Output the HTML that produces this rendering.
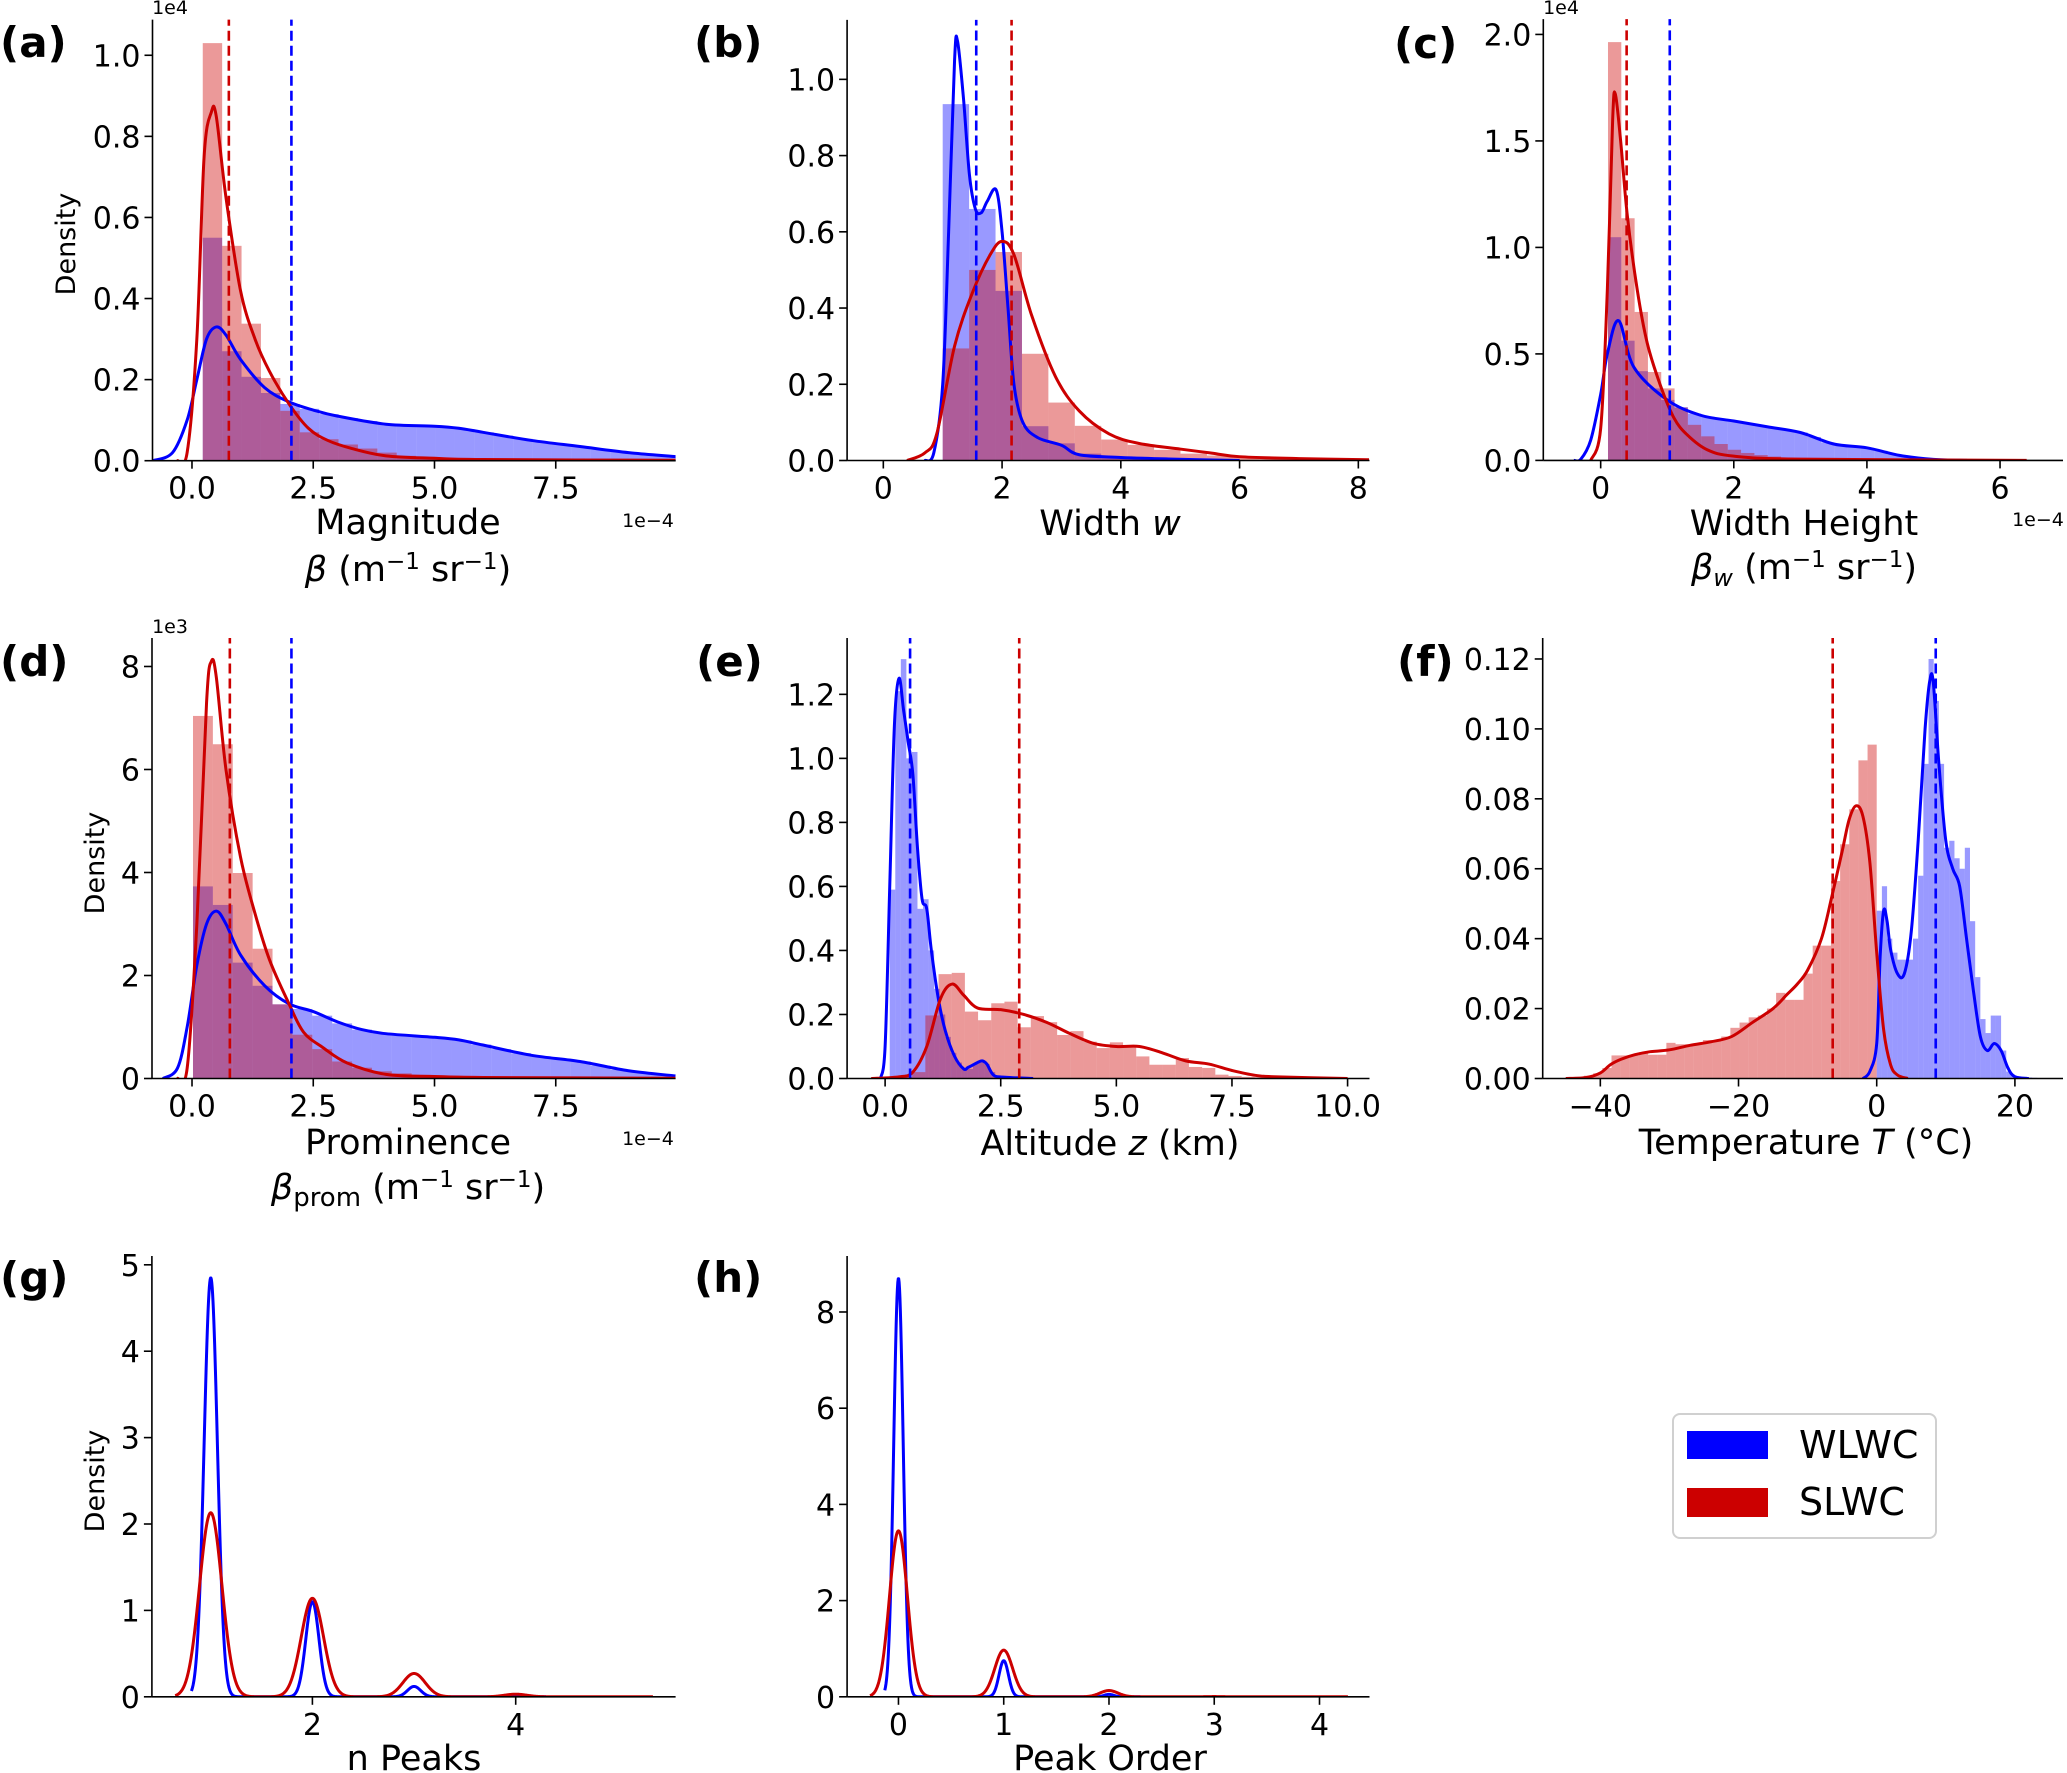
<!DOCTYPE html>
<html><head><meta charset="utf-8"><title>WLWC vs SLWC distributions</title>
<style>html,body{margin:0;padding:0;background:#fff}svg{display:block;font-family:"DejaVu Sans","Liberation Sans",sans-serif}</style>
</head><body>
<svg id="fig" width="2067" height="1773" viewBox="0 0 2067 1773" xmlns="http://www.w3.org/2000/svg">
<rect x="0" y="0" width="2067" height="1773" fill="#fff"/>
<g id="legend">
<rect x="1673" y="1414" width="263" height="124" rx="7" fill="#fff" stroke="#d0d0d0" stroke-width="2"/>
<rect x="1687" y="1431" width="81" height="28" fill="#0000ff"/>
<text x="1799" y="1458" font-size="38">WLWC</text>
<rect x="1687" y="1488" width="81" height="29" fill="#cc0000"/>
<text x="1799" y="1515" font-size="38">SLWC</text>
</g>
</svg>
<script>
// ---------- data ----------
// (a) Magnitude
const aRedHist=[1.03,0.53,0.338,0.204,0.123,0.07,0.053,0.04,0.03,0.02,0.012,0.009,0.006,0.004,0.003,0.002,0.002,0.001,0.001,0.001];
const aBlueHist=[0.55,0.27,0.207,0.167,0.14,0.128,0.115,0.105,0.098,0.09,0.088,0.086,0.083,0.078,0.07,0.062,0.054,0.046,0.04,0.035,0.028,0.022,0.017,0.013,0.01];
const aBlueKdeX=[-0.8,-0.4,-0.1,0.1,0.3,0.5,0.7,1.0,1.5,2.0,2.5,3,4,5,5.5,6,7,8,9,9.97];
const aBlueKdeY=[0,0.02,0.1,0.2,0.3,0.33,0.31,0.25,0.18,0.145,0.125,0.11,0.09,0.085,0.08,0.07,0.05,0.035,0.02,0.01];
const aRedKdeX=[-0.3,-0.1,0.1,0.25,0.4,0.5,0.7,1.0,1.3,1.6,2.0,2.4,2.8,3.3,4,5,6,9.97];
const aRedKdeY=[0,0.02,0.3,0.75,0.86,0.85,0.65,0.42,0.3,0.22,0.14,0.08,0.05,0.03,0.012,0.006,0.003,0.001];
const aMeans=[0.76,2.05];
// (b) Width
const bRedHist=[0.294,0.5,0.547,0.28,0.152,0.091,0.055,0.041,0.028,0.018,0.013,0.008,0.006,0.004,0.003,0.002];
const bBlueHist=[0.935,0.66,0.445,0.09,0.045,0.018,0.01,0.006,0.004,0.003,0.002,0.001];
const bBlueKdeX=[0.7,0.85,1.0,1.1,1.2,1.25,1.35,1.45,1.55,1.65,1.75,1.9,2.0,2.1,2.2,2.35,2.6,3.0,3.3,4,4.8,6];
const bBlueKdeY=[0,0.02,0.2,0.6,1.05,1.1,0.95,0.75,0.66,0.65,0.68,0.71,0.6,0.4,0.2,0.1,0.06,0.04,0.015,0.008,0.004,0];
const bRedKdeX=[0.4,0.7,0.9,1.2,1.5,1.8,2.0,2.2,2.5,2.9,3.3,3.8,4.3,5,5.5,6,7,8.18];
const bRedKdeY=[0,0.02,0.07,0.3,0.44,0.54,0.575,0.54,0.38,0.22,0.13,0.07,0.045,0.03,0.02,0.01,0.005,0.002];
const bMeans=[2.16,1.565];
// (c) Width Height
const cRedHist=[1.964,1.137,0.697,0.415,0.338,0.248,0.167,0.113,0.077,0.05,0.035,0.025,0.018,0.012,0.008,0.006,0.004,0.003,0.002,0.002,0.001];
const cBlueHist=[1.048,0.562,0.419,0.338,0.284,0.25,0.22,0.205,0.195,0.185,0.175,0.163,0.152,0.142,0.131,0.11,0.085,0.073,0.066,0.059,0.045,0.028,0.018,0.01,0.005,0.002];
const cBlueKdeX=[-0.4,-0.3,-0.15,0,0.1,0.27,0.5,1.0,1.5,2,2.5,3,3.5,4,4.5,5,5.5];
const cBlueKdeY=[0,0.005,0.095,0.31,0.5,0.656,0.437,0.284,0.212,0.185,0.158,0.131,0.077,0.059,0.023,0.005,0];
const cRedKdeX=[-0.15,0,0.1,0.18,0.22,0.3,0.4,0.55,0.7,0.9,1.1,1.3,1.6,2,3,6.4];
const cRedKdeY=[0,0.15,0.8,1.6,1.72,1.5,1.15,0.8,0.55,0.35,0.2,0.12,0.05,0.02,0.006,0];
const cMeans=[0.39,1.038];
// (d) Prominence
const dRedHist=[7.04,6.49,3.99,2.52,1.44,0.85,0.57,0.33,0.21,0.14,0.1,0.07,0.05,0.04,0.03,0.02,0.02,0.01,0.01,0.01,0.01,0.005,0.005,0.005];
const dBlueHist=[3.73,3.37,2.25,1.80,1.44,1.35,1.22,1.07,0.95,0.88,0.85,0.82,0.79,0.74,0.66,0.57,0.49,0.43,0.38,0.33,0.25,0.17,0.12,0.08];
const dBlueKdeX=[-0.6,-0.3,-0.1,0.1,0.3,0.5,0.7,1.0,1.5,2.0,2.5,3,3.5,4,5,5.5,6,7,8,9,9.97];
const dBlueKdeY=[0,0.2,1.0,2.2,3.0,3.25,3.0,2.4,1.8,1.45,1.3,1.1,0.95,0.87,0.8,0.75,0.65,0.45,0.33,0.15,0.05];
const dRedKdeX=[-0.3,-0.1,0.1,0.3,0.4,0.5,0.7,1.0,1.3,1.6,2.0,2.3,2.7,3.2,4,5,6,9.97];
const dRedKdeY=[0,0.2,3.0,7.3,8.1,7.8,6.0,4.3,3.2,2.3,1.45,0.9,0.6,0.3,0.08,0.04,0.02,0.005];
const dMeans=[0.78,2.05];
// (e) Altitude
const eRedHist=[0.005,0.02,0.197,0.326,0.33,0.209,0.182,0.235,0.24,0.16,0.195,0.176,0.136,0.148,0.115,0.095,0.113,0.097,0.069,0.043,0.043,0.064,0.036,0.033,0.012,0.008,0.005,0.004,0.003,0.003,0.002,0.002,0.001,0.001];
const eBlueHist=[0.59,1.21,1.31,1.0,1.02,0.53,0.56,0.4,0.28,0.2,0.13,0.08,0.05,0.03,0.03,0.045,0.05,0.045,0.02,0.01,0.006,0.005,0.004,0.003,0.002,0.002];
const eBlueKdeX=[-0.1,0.0,0.1,0.2,0.3,0.4,0.5,0.6,0.7,0.8,0.9,1.0,1.15,1.3,1.5,1.7,1.8,2.0,2.1,2.2,2.35,2.6,3.2];
const eBlueKdeY=[0,0.1,0.6,1.1,1.25,1.15,1.05,0.95,0.72,0.56,0.53,0.4,0.25,0.15,0.07,0.03,0.035,0.05,0.055,0.045,0.01,0.004,0];
const eRedKdeX=[-0.3,0.3,0.6,0.9,1.2,1.45,1.7,2.0,2.5,3.0,3.5,4.0,4.5,5.0,5.5,6.0,6.5,7,7.5,8,8.5,10];
const eRedKdeY=[0,0.005,0.02,0.1,0.25,0.295,0.26,0.22,0.215,0.2,0.175,0.14,0.11,0.1,0.1,0.08,0.055,0.045,0.025,0.01,0.005,0];
const eMeans=[2.9,0.54];
// (f) Temperature
const fRedHist=[0.0002,0.0004,0.0008,0.0015,0.003,0.0066,0.0066,0.0066,0.0075,0.0068,0.0068,0.0102,0.0098,0.0098,0.0098,0.011,0.011,0.012,0.0145,0.016,0.0175,0.018,0.020,0.0245,0.0225,0.0225,0.03,0.038,0.038,0.0565,0.067,0.077,0.091,0.0955];
const fBlueHist=[0.048,0.055,0.04,0.036,0.034,0.034,0.034,0.04,0.058,0.09,0.12,0.108,0.09,0.066,0.068,0.063,0.06,0.066,0.045,0.029,0.017,0.013,0.018,0.018,0.008,0.002,0.0008,0.0005,0.0005,0.0003,0.0002];
const fBlueKdeX=[-2,-1,0,0.5,1,1.5,2,3,4,5,6,7,7.7,8.2,9,10,11,12,13,14,15,16,17,18,19,20,22];
const fBlueKdeY=[0,0.002,0.01,0.035,0.048,0.045,0.037,0.03,0.03,0.042,0.068,0.1,0.114,0.113,0.09,0.068,0.06,0.055,0.04,0.025,0.012,0.008,0.01,0.008,0.003,0.0005,0];
const fRedKdeX=[-45,-42,-40,-38.5,-37,-35,-33,-30,-27,-24,-21,-18,-15,-13,-11.5,-10,-8,-6.5,-5,-4,-3,-2,-1,0,1,2,3,4.5];
const fRedKdeY=[0,0.0003,0.0016,0.004,0.0055,0.0068,0.0076,0.0082,0.0095,0.0105,0.012,0.016,0.02,0.024,0.027,0.031,0.04,0.052,0.065,0.074,0.078,0.075,0.062,0.036,0.014,0.004,0.001,0];
const fMeans=[-6.37,8.54];
// (g) n Peaks (KDE peak positions / heights)
const gPeakPos=[1,2,3,4];
const gBluePeaks=[4.85,1.1,0.12,0.0];
const gRedPeaks=[2.13,1.14,0.27,0.03];
// (h) Peak Order
const hPeakPos=[0,1,2,3];
const hBluePeaks=[8.7,0.75,0.05,0.0];
const hRedPeaks=[3.45,0.97,0.13,0.005];

// ---------- helpers ----------
const NS='http://www.w3.org/2000/svg';
const svg=document.getElementById('fig');
const legend=document.getElementById('legend');
const BLUE='#0000ff', RED='#cc0000';
function mk(tag,attrs,parent){const e=document.createElementNS(NS,tag);for(const k in attrs)e.setAttribute(k,attrs[k]);(parent||svg).appendChild(e);return e;}
function smooth(pts){let d='M'+pts[0][0].toFixed(2)+','+pts[0][1].toFixed(2);
 for(let i=0;i<pts.length-1;i++){const p0=pts[i-1]||pts[i],p1=pts[i],p2=pts[i+1],p3=pts[i+2]||p2;
  const c1=[p1[0]+(p2[0]-p0[0])/6,p1[1]+(p2[1]-p0[1])/6],c2=[p2[0]-(p3[0]-p1[0])/6,p2[1]-(p3[1]-p1[1])/6];
  d+=' C'+c1[0].toFixed(2)+','+c1[1].toFixed(2)+' '+c2[0].toFixed(2)+','+c2[1].toFixed(2)+' '+p2[0].toFixed(2)+','+p2[1].toFixed(2);}
 return d;}
let clipN=0;
function panel(c){
 const g=mk('g',{});
 
 
 const X=v=>c.l+(v-c.xd[0])/(c.xd[1]-c.xd[0])*(c.r-c.l);
 const Y=v=>c.b-(v-c.yd[0])/(c.yd[1]-c.yd[0])*(c.b-c.t);
 const cid='clip'+(clipN++);
 const defs=mk('defs',{},g);const cp=mk('clipPath',{id:cid},defs);mk('rect',{x:c.l,y:c.t-5,width:c.r-c.l,height:c.b-c.t+5},cp);
 const plot=mk('g',{'clip-path':'url(#'+cid+')'},g);
 (c.hists||[]).forEach(h=>{
  const hg=mk('g',{fill:h.color,'fill-opacity':0.4},plot);
  
  
  h.vals.forEach((v,i)=>{const x0=X(h.start+i*h.width),x1=X(h.start+(i+1)*h.width);
   const r=mk('rect',{x:x0,y:Y(v),width:Math.max(0,x1-x0),height:Math.max(0,Y(0)-Y(v))},hg);
   
   });
 });
 (c.kdes||[]).forEach(k=>{
  const pts=k.xs.map((x,i)=>[X(x),Y(k.ys[i])]);
  const p=mk('path',{d:smooth(pts),fill:'none',stroke:k.color,'stroke-width':3,'stroke-linejoin':'round'},plot);
  
  
 });
 (c.gauss||[]).forEach(k=>{
  const pts=[];for(let x=k.lo;x<=k.hi+1e-9;x+=0.004){let y=0;k.pos.forEach((p,i)=>{y+=k.h[i]*Math.exp(-((x-p)*(x-p))/(2*k.s*k.s));});pts.push([X(x),Y(y)]);}
  const d='M'+pts.map(p=>p[0].toFixed(2)+','+p[1].toFixed(2)).join(' L');
  const p=mk('path',{d:d,fill:'none',stroke:k.color,'stroke-width':3,'stroke-linejoin':'round'},plot);
  
  
 });
 (c.vlines||[]).forEach(v=>{
  const l=mk('line',{x1:X(v.v),x2:X(v.v),y1:c.b,y2:c.t,stroke:v.color,'stroke-width':2.6,'stroke-dasharray':'10,5'},g);
  
  
 });
 const ya=mk('line',{x1:c.l,x2:c.l,y1:c.t,y2:c.b,stroke:'#000','stroke-width':1.6},g);
 
 
 const xa=mk('line',{x1:c.l,x2:c.r,y1:c.b,y2:c.b,stroke:'#000','stroke-width':1.6},g);
 
 
 c.xticks.forEach((t,i)=>{const x=X(t);mk('line',{x1:x,x2:x,y1:c.b,y2:c.b+8,stroke:'#000','stroke-width':1.6},g);
  const tx=mk('text',{x:x,y:c.b+38,'font-size':30,'text-anchor':'middle'},g);tx.textContent=c.xlabels[i];
  
  });
 c.yticks.forEach((t,i)=>{const y=Y(t);mk('line',{x1:c.l-8,x2:c.l,y1:y,y2:y,stroke:'#000','stroke-width':1.6},g);
  const tx=mk('text',{x:c.l-12,y:y+11,'font-size':30,'text-anchor':'end'},g);tx.textContent=c.ylabels[i];
  
  });
 const pl=mk('text',{x:c.px,y:c.py,'font-size':42,'font-weight':'bold'},g);pl.textContent='('+c.id+')';
 
 
 return g;
}
function txt(x,y,size,html,name,anchor,rot){
 const t=mk('text',{x:x,y:y,'font-size':size,'text-anchor':anchor||'middle'});
 if(rot)t.setAttribute('transform','rotate(-90 '+x+' '+y+')');
 t.innerHTML=html;
 
 
 return t;}
const fmt1=a=>a.map(v=>v.toFixed(1));
const sup='<tspan dy="-12" font-size="23">−1</tspan>';

// ---------- panels ----------
panel({id:'a',l:152.5,r:675.7,t:19.6,b:460.7,xd:[-0.814,9.973],yd:[0,1.088],
 xticks:[0,2.5,5,7.5],xlabels:['0.0','2.5','5.0','7.5'],yticks:[0,0.2,0.4,0.6,0.8,1.0],ylabels:fmt1([0,0.2,0.4,0.6,0.8,1.0]),
 hists:[{start:0.222,width:0.4,vals:aBlueHist,color:BLUE,label:'wlwc'},{start:0.222,width:0.4,vals:aRedHist,color:RED,label:'slwc'}],
 kdes:[{xs:aBlueKdeX,ys:aBlueKdeY,color:BLUE,label:'wlwc'},{xs:aRedKdeX,ys:aRedKdeY,color:RED,label:'slwc'}],
 vlines:[{v:aMeans[0],color:RED,label:'slwc'},{v:aMeans[1],color:BLUE,label:'wlwc'}],px:0,py:57});
panel({id:'b',l:847.1,r:1369.5,t:19.9,b:460.5,xd:[-0.61,8.188],yd:[0,1.156],
 xticks:[0,2,4,6,8],xlabels:['0','2','4','6','8'],yticks:[0,0.2,0.4,0.6,0.8,1.0],ylabels:fmt1([0,0.2,0.4,0.6,0.8,1.0]),
 hists:[{start:1.0,width:0.445,vals:bBlueHist,color:BLUE,label:'wlwc'},{start:1.0,width:0.445,vals:bRedHist,color:RED,label:'slwc'}],
 kdes:[{xs:bBlueKdeX,ys:bBlueKdeY,color:BLUE,label:'wlwc'},{xs:bRedKdeX,ys:bRedKdeY,color:RED,label:'slwc'}],
 vlines:[{v:bMeans[0],color:RED,label:'slwc'},{v:bMeans[1],color:BLUE,label:'wlwc'}],px:694,py:57});
panel({id:'c',l:1543.3,r:2063,t:19.1,b:460.4,xd:[-0.862,6.946],yd:[0,2.072],
 xticks:[0,2,4,6],xlabels:['0','2','4','6'],yticks:[0,0.5,1.0,1.5,2.0],ylabels:fmt1([0,0.5,1.0,1.5,2.0]),
 hists:[{start:0.11,width:0.2,vals:cBlueHist,color:BLUE,label:'wlwc'},{start:0.11,width:0.2,vals:cRedHist,color:RED,label:'slwc'}],
 kdes:[{xs:cBlueKdeX,ys:cBlueKdeY,color:BLUE,label:'wlwc'},{xs:cRedKdeX,ys:cRedKdeY,color:RED,label:'slwc'}],
 vlines:[{v:cMeans[0],color:RED,label:'slwc'},{v:cMeans[1],color:BLUE,label:'wlwc'}],px:1394,py:58});
panel({id:'d',l:152,r:675.6,t:638,b:1078.5,xd:[-0.825,9.971],yd:[0,8.553],
 xticks:[0,2.5,5,7.5],xlabels:['0.0','2.5','5.0','7.5'],yticks:[0,2,4,6,8],ylabels:['0','2','4','6','8'],
 hists:[{start:0.02,width:0.41,vals:dBlueHist,color:BLUE,label:'wlwc'},{start:0.02,width:0.41,vals:dRedHist,color:RED,label:'slwc'}],
 kdes:[{xs:dBlueKdeX,ys:dBlueKdeY,color:BLUE,label:'wlwc'},{xs:dRedKdeX,ys:dRedKdeY,color:RED,label:'slwc'}],
 vlines:[{v:dMeans[0],color:RED,label:'slwc'},{v:dMeans[1],color:BLUE,label:'wlwc'}],px:0,py:676});
panel({id:'e',l:847.1,r:1369.5,t:638,b:1078.5,xd:[-0.822,10.474],yd:[0,1.376],
 xticks:[0,2.5,5,7.5,10],xlabels:['0.0','2.5','5.0','7.5','10.0'],yticks:[0,0.2,0.4,0.6,0.8,1.0,1.2],ylabels:fmt1([0,0.2,0.4,0.6,0.8,1.0,1.2]),
 hists:[{start:0.1,width:0.12,vals:eBlueHist,color:BLUE,label:'wlwc'},{start:0.3,width:0.285,vals:eRedHist,color:RED,label:'slwc'}],
 kdes:[{xs:eBlueKdeX,ys:eBlueKdeY,color:BLUE,label:'wlwc'},{xs:eRedKdeX,ys:eRedKdeY,color:RED,label:'slwc'}],
 vlines:[{v:eMeans[0],color:RED,label:'slwc'},{v:eMeans[1],color:BLUE,label:'wlwc'}],px:696,py:676});
panel({id:'f',l:1542.7,r:2063,t:638,b:1078.5,xd:[-48.34,26.96],yd:[0,0.126],
 xticks:[-40,-20,0,20],xlabels:['−40','−20','0','20'],yticks:[0,0.02,0.04,0.06,0.08,0.10,0.12],ylabels:['0.00','0.02','0.04','0.06','0.08','0.10','0.12'],
 hists:[{start:0,width:0.75,vals:fBlueHist,color:BLUE,label:'wlwc'},{start:-45,width:1.3235,vals:fRedHist,color:RED,label:'slwc'}],
 kdes:[{xs:fBlueKdeX,ys:fBlueKdeY,color:BLUE,label:'wlwc'},{xs:fRedKdeX,ys:fRedKdeY,color:RED,label:'slwc'}],
 vlines:[{v:fMeans[0],color:RED,label:'slwc'},{v:fMeans[1],color:BLUE,label:'wlwc'}],px:1397,py:676});
panel({id:'g',l:151.9,r:675.6,t:1256,b:1696.8,xd:[0.421,5.573],yd:[0,5.102],
 xticks:[2,4],xlabels:['2','4'],yticks:[0,1,2,3,4,5],ylabels:['0','1','2','3','4','5'],
 gauss:[{pos:gPeakPos,h:gBluePeaks,s:0.065,lo:0.81,hi:4.3,color:BLUE,label:'wlwc'},{pos:gPeakPos,h:gRedPeaks,s:0.11,lo:0.65,hi:5.35,color:RED,label:'slwc'}],
 px:0,py:1292});
panel({id:'h',l:847.1,r:1369.5,t:1256,b:1696.8,xd:[-0.488,4.475],yd:[0,9.164],
 xticks:[0,1,2,3,4],xlabels:['0','1','2','3','4'],yticks:[0,2,4,6,8],ylabels:['0','2','4','6','8'],
 gauss:[{pos:hPeakPos,h:hBluePeaks,s:0.045,lo:-0.13,hi:2.3,color:BLUE,label:'wlwc'},{pos:hPeakPos,h:hRedPeaks,s:0.085,lo:-0.27,hi:4.27,color:RED,label:'slwc'}],
 px:694,py:1292});

// ---------- axis titles ----------
txt(408,534,35,'Magnitude','x-axis-title-a');
txt(408,581,35,'<tspan font-style="italic">β</tspan> (m'+sup+'<tspan dy="12"> sr</tspan>'+sup+'<tspan dy="12">)</tspan>','x-axis-unit-a');
txt(648,527,19,'1e−4','x-offset-a');
txt(170,14,19,'1e4','y-offset-a');
txt(75,244,27,'Density','y-axis-title-a','middle',true);
txt(1110,535,35,'Width <tspan font-style="italic">w</tspan>','x-axis-title-b');
txt(1804,535,35,'Width Height','x-axis-title-c');
txt(1804,579,35,'<tspan font-style="italic">β</tspan><tspan dy="7" font-size="24" font-style="italic">w</tspan><tspan dy="-7"> (m</tspan>'+sup+'<tspan dy="12"> sr</tspan>'+sup+'<tspan dy="12">)</tspan>','x-axis-unit-c');
txt(2038,526,19,'1e−4','x-offset-c');
txt(1561,14,19,'1e4','y-offset-c');
txt(408,1154,35,'Prominence','x-axis-title-d');
txt(408,1199,35,'<tspan font-style="italic">β</tspan><tspan dy="7" font-size="26">prom</tspan><tspan dy="-7"> (m</tspan>'+sup+'<tspan dy="12"> sr</tspan>'+sup+'<tspan dy="12">)</tspan>','x-axis-unit-d');
txt(648,1145,19,'1e−4','x-offset-d');
txt(170,633,19,'1e3','y-offset-d');
txt(104,863,27,'Density','y-axis-title-d','middle',true);
txt(1110,1155,35,'Altitude <tspan font-style="italic">z</tspan> (km)','x-axis-title-e');
txt(1806,1154,35,'Temperature <tspan font-style="italic">T</tspan> (°C)','x-axis-title-f');
txt(414,1770,35,'n Peaks','x-axis-title-g');
txt(104,1481,27,'Density','y-axis-title-g','middle',true);
txt(1110,1770,35,'Peak Order','x-axis-title-h');
svg.appendChild(legend);
</script>
</body></html>
